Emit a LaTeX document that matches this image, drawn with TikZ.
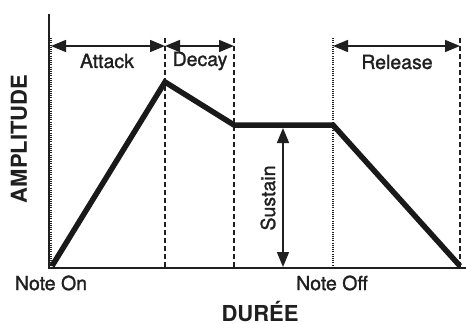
\documentclass[tikz,border=0pt]{standalone}
\usepackage{fontspec}
\setmainfont{TeX Gyre Heros}
\newfontfamily\medfont[FakeBold=1.3]{TeX Gyre Heros}
\usetikzlibrary{arrows.meta}
\begin{document}
\begin{tikzpicture}[x=1pt,y=-1pt,
  lbl/.style={font=\medfont\fontsize{19.5}{20}\selectfont, inner sep=0pt, text=black!88},
  biglbl/.style={font=\fontsize{22}{24}\selectfont\bfseries, inner sep=0pt, text=black!88},
  axisline/.style={line width=2pt, black!88},
  env/.style={line width=5.5pt, black!90, line join=miter, line cap=butt},
  dashv/.style={line width=1.8pt, black!88, dash pattern=on 5pt off 3pt},
  dotv/.style={line width=1.2pt, black!88, dash pattern=on 1pt off 1.2pt},
  dimarrow/.style={line width=1.5pt, black!88, {Triangle[length=15pt,width=12pt]}-{Triangle[length=15pt,width=12pt]}}
]
\useasboundingbox (0,0) rectangle (466,324);
% key coordinates
\coordinate (ytop) at (49,14);
\coordinate (origin) at (49,268);
\coordinate (xend) at (466,268);
\coordinate (p0) at (52,266);
\coordinate (p1) at (165,82);
\coordinate (p2) at (234,125);
\coordinate (p3) at (333,125);
\coordinate (p4) at (460,266);
\coordinate (t0) at (51,38);
\coordinate (b0) at (51,267);
\coordinate (t1) at (165,38);
\coordinate (b1) at (165,267);
\coordinate (t2) at (234,38);
\coordinate (b2) at (234,267);
\coordinate (t3) at (333,38);
\coordinate (b3) at (333,267);
\coordinate (t4) at (460,38);
\coordinate (b4) at (460,267);
\coordinate (a0) at (51,46);
\coordinate (a1) at (165,46);
\coordinate (a2) at (234,46);
\coordinate (a3) at (333,46);
\coordinate (a4) at (460,46);
\coordinate (s1) at (283,128);
\coordinate (s2) at (283,267);
% vertical guides
\draw[dotv] (t0) -- (b0);
\draw[dashv] (t1) -- (b1);
\draw[dashv] (t2) -- (b2);
\draw[dotv] (t3) -- (b3);
\draw[dashv] (t4) -- (b4);
% axes
\draw[axisline] (ytop) -- (origin) -- (xend);
% envelope
\draw[env] (p0) -- (p1) -- (p2) -- (p3) -- (p4);
% dimension arrows
\draw[dimarrow] (a0) -- (a1);
\draw[dimarrow] (a1) -- (a2);
\draw[dimarrow] (a3) -- (a4);
\draw[dimarrow] (s1) -- (s2);
% labels
\node[lbl] (attack) at (107,61) {Attack};
\node[lbl] (decay) at (200,61) {Decay};
\node[lbl] (release) at (397,62) {Release};
\node[lbl, rotate=90] (sustain) at (268,198) {Sustain};
\node[lbl] (noteon) at (51,283) {Note On};
\node[lbl] (noteoff) at (332,283) {Note Off};
\node[biglbl, anchor=base] (duree) at (260,321) {DURÉE};
\node[biglbl, rotate=90] (ampl) at (19,139) {AMPLITUDE};
\end{tikzpicture}
\end{document}
